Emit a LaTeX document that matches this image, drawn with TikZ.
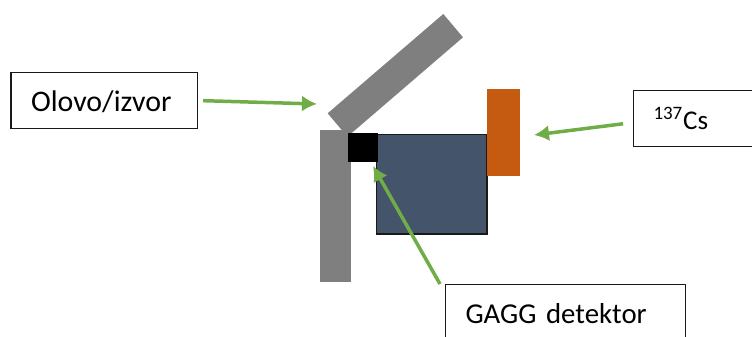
\documentclass[tikz,border=0pt]{standalone}
\usepackage{fontspec}
\setmainfont{Carlito}
\usetikzlibrary{arrows.meta}
\definecolor{olovosiva}{HTML}{7F7F7F}
\definecolor{detplava}{HTML}{44546A}
\definecolor{izvorsmeda}{HTML}{C55A11}
\definecolor{strelica}{HTML}{70AD47}
\tikzset{
	okvir/.style={draw=black!90, line width=0.6pt, anchor=north west, inner xsep=0.4cm, inner ysep=0pt, align=left, minimum height=1.12cm, text height=0.46cm, text depth=0.04cm, font=\fontsize{16.4}{19}\selectfont},
	pokazivac/.style={draw=strelica, line width=0.07cm, -{Latex[length=0.3cm,width=0.32cm]}}
}

\begin{document}
\begin{tikzpicture}[x=0.02cm, y=-0.02cm]
	%%%%% START %%%%%
	\useasboundingbox (0, 0) rectangle (752, 336);
	
	% olovo
	\fill[olovosiva] (443.3, 14) -- (463, 37.3) -- (347.4, 136.7) -- (327.7, 113.3) -- cycle;
	\fill[olovosiva] (320, 130) rectangle (350.5, 282);
	
	% detektor
	\draw[fill=detplava, draw=black!90, line width=1pt] (376.5, 134.5) rectangle (487, 234);
	\fill[black] (348, 133) rectangle (378, 162);
	
	% izvor
	\fill[izvorsmeda] (487, 89) rectangle (520, 175.5);
	
	% oznake
	\node[okvir, text width=2.93cm, font=\fontsize{17}{19}\selectfont] (olovo) at (10.5, 72) {Olovo/izvor};
	\begin{scope}
		\clip (0, 0) rectangle (752, 336);
		\node[okvir, text width=2.2cm, font=\fontsize{15.4}{19}\selectfont] (cezij) at (633, 90) {\textsuperscript{137}Cs};
		\node[okvir, text width=4cm] (gagg) at (445, 284) {GAGG detektor};
	\end{scope}
	
	\coordinate (olovoKraj) at (317, 104);
	\coordinate (cezijKraj) at (534, 135);
	\coordinate (detKraj) at (373, 166);
	
	\draw[pokazivac, shorten <=0.1cm] (olovo.east) -- (olovoKraj);
	\draw[pokazivac, shorten <=0.2cm] ([yshift=-0.08cm]cezij.west) -- (cezijKraj);
	\draw[pokazivac] ([xshift=-0.1cm]gagg.north west) -- (detKraj);
	%%%%% END %%%%%
\end{tikzpicture}
\end{document}
